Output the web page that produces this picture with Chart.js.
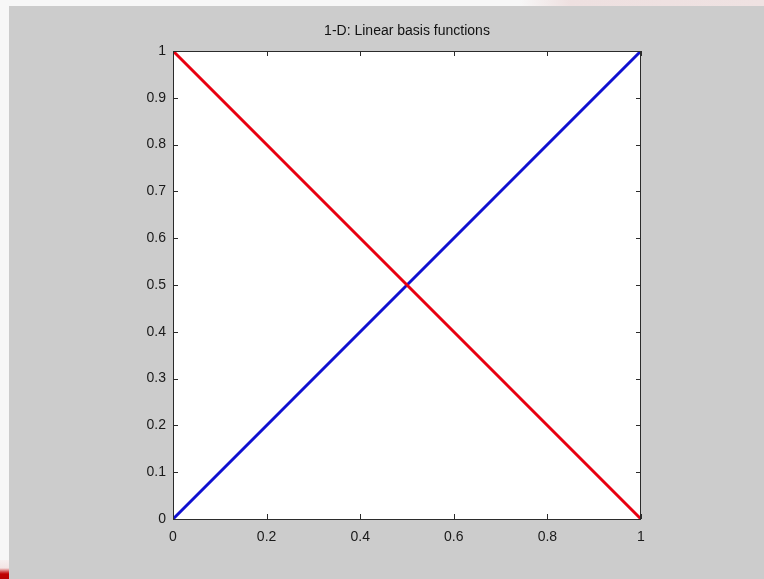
<!DOCTYPE html>
<html>
<head>
<meta charset="utf-8">
<title>1-D: Linear basis functions</title>
<script src="https://cdn.jsdelivr.net/npm/chart.js@4/dist/chart.umd.min.js"></script>
<style>
  html, body { margin: 0; padding: 0; }
  body {
    width: 764px; height: 579px; overflow: hidden; position: relative;
    background: #f7f7f7;
    font-family: "Liberation Sans", Arial, sans-serif;
  }
  /* slide edges */
  .top-strip {
    position: absolute; left: 0; top: 0; width: 764px; height: 6px;
    background: linear-gradient(to right, #f7f7f7 0, #f7f7f7 520px, #eee0e0 570px, #efe2e2 764px);
  }
  .left-red {
    position: absolute; left: 0; top: 560px; width: 9px; height: 19px;
    background: linear-gradient(to bottom, #f7f0f0 0, #f3e4e4 8px, #d04040 12px, #c00000 14px, #b80000 19px);
  }
  .figure {
    position: absolute; left: 9px; top: 6px; width: 755px; height: 573px;
    background: #cccccc;
  }
  #wrap { position: absolute; left: 0; top: 0; width: 764px; height: 579px; }
</style>
</head>
<body>
<div class="top-strip"></div>
<div class="left-red"></div>
<div class="figure"></div>
<div id="wrap"><canvas id="basisChart"></canvas></div>
<script>
'use strict';

// nodes and the two hat functions on [0, 1]
const xs       = [0, 0.5, 1];
const phiLeft  = [1, 0.5, 0];   // falls from 1 to 0
const phiRight = [0, 0.5, 1];   // rises from 0 to 1

const xTickVals = [0, 0.2, 0.4, 0.6, 0.8, 1];
const yTickVals = [0, 0.1, 0.2, 0.3, 0.4, 0.5, 0.6, 0.7, 0.8, 0.9, 1];

const TITLE = '1-D: Linear basis functions';
const AXIS  = '#2b2b2b';
const FONT  = '"Liberation Sans", Arial, sans-serif';

const fmt = v => String(Number(v.toFixed(2)));
const pts = ys => xs.map((x, i) => ({ x: x, y: ys[i] }));

// MATLAB-like box: white axes, frame on all sides, inward ticks, title over the axes
const boxAxes = {
    id: 'boxAxes',
    beforeDatasetsDraw(chart) {
        const { ctx, chartArea: a } = chart;
        ctx.save();
        ctx.fillStyle = '#ffffff';
        ctx.fillRect(a.left, a.top, a.right - a.left, a.bottom - a.top);
        ctx.restore();
    },
    afterDraw(chart) {
        const { ctx, chartArea: a, scales } = chart;
        const len = 5;
        ctx.save();
        ctx.strokeStyle = AXIS;
        ctx.lineWidth = 1;
        ctx.strokeRect(a.left + 0.5, a.top + 0.5, a.right - a.left - 1, a.bottom - a.top);

        ctx.beginPath();
        scales.x.ticks.forEach(t => {
            const px = Math.round(scales.x.getPixelForValue(t.value)) + 0.5;
            ctx.moveTo(px, a.bottom); ctx.lineTo(px, a.bottom - len);
            ctx.moveTo(px, a.top);    ctx.lineTo(px, a.top + len);
        });
        scales.y.ticks.forEach(t => {
            const py = Math.round(scales.y.getPixelForValue(t.value)) + 0.5;
            ctx.moveTo(a.left, py);  ctx.lineTo(a.left + len, py);
            ctx.moveTo(a.right, py); ctx.lineTo(a.right - len, py);
        });
        ctx.stroke();

        ctx.fillStyle = '#111';
        ctx.font = '14px ' + FONT;
        ctx.textAlign = 'center';
        ctx.textBaseline = 'middle';
        ctx.fillText(TITLE, (a.left + a.right) / 2, 31);
        ctx.restore();
    }
};

new Chart(document.getElementById('basisChart'), {
    type: 'scatter',
    data: {
        datasets: [
            {
                label: 'phi1',
                data: pts(phiLeft),
                showLine: true,
                borderColor: '#e80010',
                backgroundColor: '#e80010',
                borderWidth: 3,
                pointRadius: 0,
            },
            {
                label: 'phi2',
                data: pts(phiRight),
                showLine: true,
                borderColor: '#1010d0',
                backgroundColor: '#1010d0',
                borderWidth: 3,
                pointRadius: 0,
            }
        ]
    },
    options: {
        responsive: true,
        maintainAspectRatio: false,
        animation: false,
        layout: { padding: { top: 51, right: 123, left: 0, bottom: 0 } },
        plugins: {
            legend: { display: false },
            title: { display: false },
            tooltip: { enabled: false }
        },
        scales: {
            x: {
                type: 'linear',
                min: 0, max: 1,
                afterBuildTicks: s => { s.ticks = xTickVals.map(v => ({ value: v })); },
                afterFit: s => { s.height = 60; },
                grid: { display: false, drawTicks: false },
                border: { display: false },
                ticks: { color: '#1a1a1a', padding: 10, font: { size: 14, family: FONT }, callback: fmt, maxRotation: 0 }
            },
            y: {
                type: 'linear',
                min: 0, max: 1,
                afterBuildTicks: s => { s.ticks = yTickVals.map(v => ({ value: v })); },
                afterFit: s => { s.width = 173; },
                grid: { display: false, drawTicks: false },
                border: { display: false },
                ticks: { color: '#1a1a1a', padding: 7, font: { size: 14, family: FONT }, callback: fmt }
            }
        }
    },
    plugins: [boxAxes]
});
</script>
</body>
</html>
